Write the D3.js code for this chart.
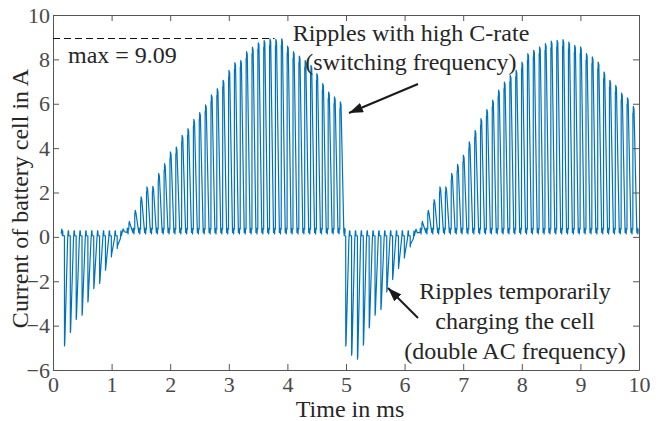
<!DOCTYPE html>
<html>
<head>
<meta charset="utf-8">
<script src="https://cdn.jsdelivr.net/npm/d3@7"></script>
<style>
  html, body { margin: 0; padding: 0; background: #fff; }
  svg { display: block; }
  text { font-family: 'Liberation Serif', 'Times New Roman', serif; }
</style>
</head>
<body>
<div id="chart"></div>
<script>
// ---------------- data ----------------
const xTicks = [0, 1, 2, 3, 4, 5, 6, 7, 8, 9, 10];
const yTicks = [-6, -4, -2, 0, 2, 4, 6, 8, 10];
const xDomain = [0, 10];
const yDomain = [-6, 10];

// switching pulses: one extreme value per switching period (A)
const switchPeriodMs = 0.1;
const firstPulseMs = 0.195;
const traceStartMs = 0.14;
const traceEndMs = 9.96;
const pulseExtremes = [
  // first half-cycle: negative ripples (charging)
  -4.91, -4.31, -3.72, -3.53, -2.93, -2.33, -2.10, -1.50, -0.90, -0.52,
  // first half-cycle: positive ripples
  0.35, 0.70, 1.20, 1.80, 2.25, 2.28, 2.86, 3.30, 3.83, 4.05,
  4.58, 4.88, 5.30, 5.60, 5.95, 6.40, 6.68, 7.06, 7.50, 7.85,
  7.95, 8.35, 8.55, 8.75, 8.85, 8.92, 8.90, 8.93, 8.60, 8.35,
  8.15, 7.95, 7.73, 7.36, 6.91, 6.53, 6.31, 6.08,
  // second half-cycle: negative ripples
  -4.92, -5.33, -5.51, -4.88, -4.10, -3.53, -3.27, -2.48, -1.92, -1.42, -0.95, -0.45,
  // second half-cycle: positive ripples
  0.30, 0.70, 1.20, 1.68, 2.25, 2.25, 2.86, 3.27, 3.68, 4.28,
  4.80, 5.33, 5.74, 6.16, 6.61, 6.98, 7.28, 7.51, 7.88, 8.26,
  8.41, 8.56, 8.71, 8.82, 8.86, 8.89, 8.78, 8.63, 8.56, 8.26,
  8.11, 7.88, 7.43, 7.06, 6.83, 6.48, 6.27, 5.88
];
const baseNegative = 0.05;   // level between charging ripples
const basePositive = 0.35;   // level between discharging ripples
const maxMarkValue = 8.96;   // dashed max marker level
const maxMarkEndMs = 3.78;
const maxLabel = "max = 9.09";

// ---------------- layout ----------------
const W = 658, H = 421;
const margin = { left: 53, right: 19, top: 15, bottom: 51 };
const iw = W - margin.left - margin.right;
const ih = H - margin.top - margin.bottom;
const serif = "'Liberation Serif', 'Times New Roman', serif";

const svg = d3.select("#chart").append("svg")
  .attr("width", W).attr("height", H);

const x = d3.scaleLinear().domain(xDomain).range([margin.left, margin.left + iw]);
const y = d3.scaleLinear().domain(yDomain).range([margin.top + ih, margin.top]);

// ---------------- build trace from the pulse values ----------------
const pts = [];
pts.push([traceStartMs, baseNegative + 0.1]);
pts.push([traceStartMs + 0.01, baseNegative + 0.3]);
pts.push([traceStartMs + 0.02, baseNegative]);
pulseExtremes.forEach((v, i) => {
  const t = firstPulseMs + i * switchPeriodMs;
  if (v < 0) {
    const b = baseNegative;
    pts.push([t - 0.03, b + 0.22]);
    pts.push([t - 0.025, b]);
    pts.push([t, b]);
    pts.push([t + 0.001, v]);
    pts.push([t + 0.006, v + 0.12]);
    pts.push([t + 0.055, b - 0.12]);
    pts.push([t + 0.06, b + 0.05]);
    pts.push([t + 0.065, b + 0.22]);
    pts.push([t + 0.07, b]);
  } else {
    const b = basePositive;
    const step = Math.min(0.3, v * 0.1);
    pts.push([t, b]);
    pts.push([t + 0.001, v - step]);
    pts.push([t + 0.007, v - step]);
    pts.push([t + 0.008, v]);
    pts.push([t + 0.02, v - 0.12]);
    pts.push([t + 0.068, b - 0.15]);
    pts.push([t + 0.074, b + 0.05]);
    pts.push([t + 0.082, b]);
    pts.push([t + 0.086, b - 0.22]);
    pts.push([t + 0.09, b]);
  }
});
pts.push([traceEndMs, basePositive]);

svg.append("clipPath").attr("id", "clip").append("rect")
  .attr("x", margin.left).attr("y", margin.top).attr("width", iw).attr("height", ih);

svg.append("path")
  .datum(pts)
  .attr("clip-path", "url(#clip)")
  .attr("fill", "none")
  .attr("stroke", "#0072BD")
  .attr("stroke-width", 1.2)
  .attr("stroke-linejoin", "round")
  .attr("d", d3.line().x(d => x(d[0])).y(d => y(d[1])));

// ---------------- axes (box, inward ticks) ----------------
const axisColor = "#555";

function styleAxis(g, showLabels) {
  g.select(".domain").attr("stroke", axisColor).attr("stroke-width", 1);
  g.selectAll(".tick line").attr("stroke", axisColor);
  g.attr("font-family", null).attr("font-size", null);
  g.selectAll(".tick text")
    .attr("fill", "#4a4a4a")
    .style("font-family", serif)
    .style("font-size", "22px");
  if (!showLabels) g.selectAll(".tick text").remove();
}

svg.append("g")
  .attr("transform", `translate(0,${margin.top + ih})`)
  .call(d3.axisBottom(x).tickValues(xTicks).tickFormat(d3.format("d")).tickSizeInner(-6).tickSizeOuter(0).tickPadding(6))
  .call(g => styleAxis(g, true));

svg.append("g")
  .attr("transform", `translate(0,${margin.top})`)
  .call(d3.axisTop(x).tickValues(xTicks).tickSizeInner(-6).tickSizeOuter(0))
  .call(g => styleAxis(g, false));

svg.append("g")
  .attr("transform", `translate(${margin.left},0)`)
  .call(d3.axisLeft(y).tickValues(yTicks).tickFormat(d3.format("d")).tickSizeInner(-6).tickSizeOuter(0).tickPadding(3))
  .call(g => styleAxis(g, true));

svg.append("g")
  .attr("transform", `translate(${margin.left + iw},0)`)
  .call(d3.axisRight(y).tickValues(yTicks).tickSizeInner(-6).tickSizeOuter(0))
  .call(g => styleAxis(g, false));

// axis labels
svg.append("text")
  .attr("x", margin.left + iw / 2 + 4)
  .attr("y", 417)
  .attr("text-anchor", "middle")
  .attr("fill", "#262626")
  .style("font-family", serif)
  .style("font-size", "24px")
  .text("Time in ms");

svg.append("text")
  .attr("transform", `translate(28,${margin.top + ih / 2 + 6}) rotate(-90)`)
  .attr("text-anchor", "middle")
  .attr("fill", "#262626")
  .style("font-family", serif)
  .style("font-size", "24px")
  .text("Current of battery cell in A");

// ---------------- annotations ----------------
svg.append("line")
  .attr("x1", x(0)).attr("x2", x(maxMarkEndMs))
  .attr("y1", Math.round(y(maxMarkValue)) + 0.5).attr("y2", Math.round(y(maxMarkValue)) + 0.5)
  .attr("stroke", "#111").attr("stroke-width", 1)
  .attr("stroke-dasharray", "7,4");

function annText(xp, yp, txt, anchor) {
  svg.append("text")
    .attr("x", xp).attr("y", yp)
    .attr("text-anchor", anchor || "middle")
    .attr("fill", "#262626")
    .style("font-family", serif)
    .style("font-size", "24px")
    .text(txt);
}
annText(68, 63, maxLabel, "start");
annText(411, 41, "Ripples with high C-rate");
annText(411, 70, "(switching frequency)");
annText(515, 299, "Ripples temporarily");
annText(515, 329, "charging the cell");
annText(515, 359, "(double AC frequency)");

svg.append("defs").append("marker")
  .attr("id", "arrowhead")
  .attr("viewBox", "0 0 14 10")
  .attr("refX", 14).attr("refY", 5)
  .attr("markerWidth", 14).attr("markerHeight", 10)
  .attr("markerUnits", "userSpaceOnUse")
  .attr("orient", "auto")
  .append("path").attr("d", "M0,0 L14,5 L0,10 Z").attr("fill", "#1a1a1a");

function arrow(x1, y1, x2, y2) {
  svg.append("line")
    .attr("x1", x1).attr("y1", y1).attr("x2", x2).attr("y2", y2)
    .attr("stroke", "#1a1a1a").attr("stroke-width", 2)
    .attr("marker-end", "url(#arrowhead)");
}
arrow(418, 84, 349, 113);
arrow(418, 318, 388, 288);
</script>
</body>
</html>
